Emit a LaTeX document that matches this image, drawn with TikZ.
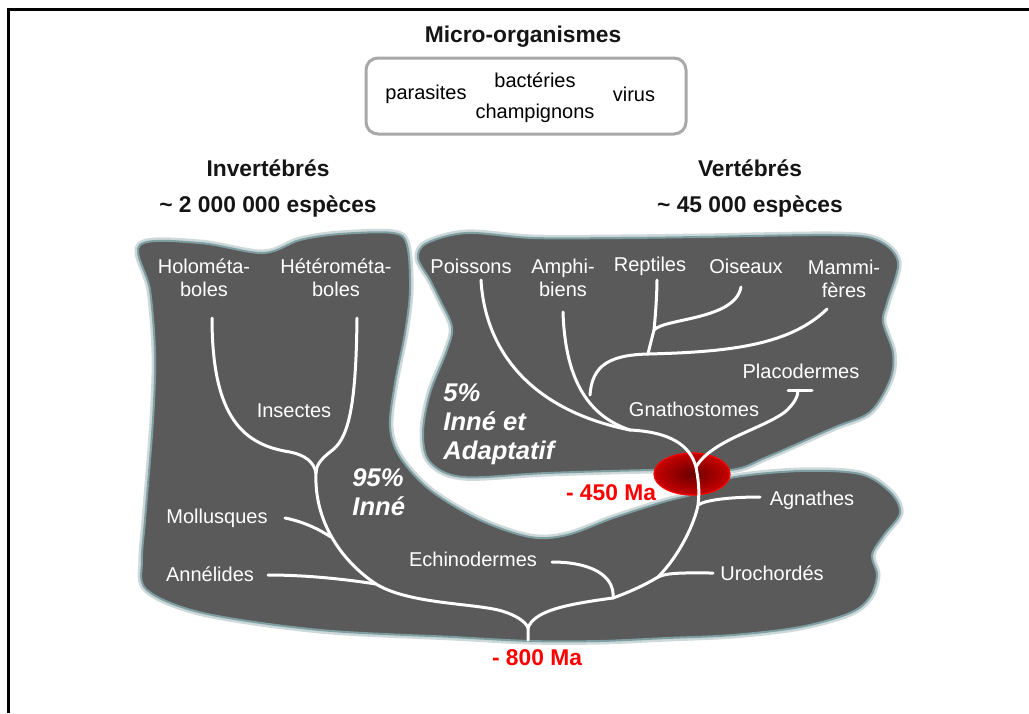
\documentclass[tikz,border=0pt]{standalone}
\usepackage{fontspec}
\setmainfont{Liberation Sans}
\usetikzlibrary{positioning, calc}
\definecolor{shapegray}{HTML}{5A5A5A}
\definecolor{shapeedge}{HTML}{7E9EA2}
\definecolor{edgeglow}{HTML}{CCD8D9}
\definecolor{boxgray}{HTML}{A8A8A8}
\definecolor{titleblack}{HTML}{151515}
\definecolor{markred}{HTML}{FF0000}
\definecolor{blobdark}{HTML}{6A0000}
\definecolor{blobred}{HTML}{C80000}

\begin{document}
\begin{tikzpicture}[x=0.5pt, y=-0.5pt,
    branch/.style={white, line width=1.5pt, line cap=round},
    lbl/.style={white, font=\fontsize{10}{11.5}\selectfont, align=center, inner sep=0pt},
    blk/.style={black, font=\fontsize{10}{11.5}\selectfont, inner sep=0pt},
    title/.style={text=titleblack, font=\fontsize{11.4}{13}\selectfont\bfseries, inner sep=0pt},
    share/.style={white, font=\fontsize{12.8}{14.5}\selectfont\bfseries\itshape, align=left, inner sep=0pt, anchor=west},
    age/.style={text=markred, font=\fontsize{11.4}{13}\selectfont\bfseries, inner sep=0pt},
    blob/.style={fill=shapegray, draw=shapeedge, line width=1pt},
    glow/.style={draw=edgeglow, line width=3.5pt}]
    \useasboundingbox (0,0) rectangle (1029,713);

    % cadre
    \draw[line width=1.5pt] (8,713) -- (8,9) -- (1029,9);

    % micro-organismes
    \node[title] (micro) at (523,37) {Micro-organismes};
    \node[draw=boxgray, line width=1.5pt, rounded corners=6pt,
          minimum width=160pt, minimum height=38pt] (microbox) at (526,96) {};
    \node[blk] (parasites) at (426,94) {parasites};
    \node[blk] (bact) at (535,80) {bactéries};
    \node[blk] (champ) at (535,113) {champignons};
    \node[blk] (virus) at (634,94) {virus};

    % titres
    \node[title] (invert) at (268,168) {Invertébrés};
    \node[title] (invertn) at (268,206) {\textasciitilde\ 2 000 000 espèces};
    \node[title] (vert) at (750,168) {Vertébrés};
    \node[title] (vertn) at (750,206) {\textasciitilde\ 45 000 espèces};

    % zones grises
    \def\lowzone{(140,245) (200,243) (263,253) (300,240) (340,234) (393,233) (407,245)
        (410,290) (405,333) (395,383) (390,427) (400,457) (430,490) (480,520) (530,537)
        (567,535) (613,518) (663,502) (697,493) (730,478) (800,471) (860,474) (890,492)
        (900,513) (884,535) (872,555) (877,575) (870,597) (850,613) (800,627) (733,635)
        (667,638) (600,641) (530,641) (453,637) (320,630) (203,613) (147,590) (142,560)
        (145,520) (153,420) (155,353) (150,290)}
    \def\highzone{(427,243) (467,233) (533,238) (620,238) (700,237) (833,235) (877,240)
        (898,262) (887,303) (883,322) (893,353) (890,380) (870,412) (833,428) (767,457)
        (730,470) (653,470) (547,473) (463,477) (430,462) (423,433) (430,393) (447,350)
        (452,327) (440,300) (430,280) (418,258)}
    \draw[glow] plot[smooth cycle, tension=0.55] coordinates {\lowzone};
    \draw[glow] plot[smooth cycle, tension=0.55] coordinates {\highzone};
    \draw[blob] plot[smooth cycle, tension=0.55] coordinates {\lowzone};
    \draw[blob] plot[smooth cycle, tension=0.55] coordinates {\highzone};

    % -450 Ma
    \shade[inner color=blobdark, outer color=blobred] (692,474) ellipse [x radius=19pt, y radius=10.5pt];
    \draw[markred, line width=0.6pt] (692,474) ellipse [x radius=19pt, y radius=10.5pt];

    % etiquettes
    \node[lbl] (holo) at (204,278) {Holométa-\\boles};
    \node[lbl] (hetero) at (336,278) {Hétérométa-\\boles};
    \node[lbl] (insect) at (294,411) {Insectes};
    \node[lbl] (moll) at (217,518) {Mollusques};
    \node[lbl] (annel) at (210,574) {Annélides};
    \node[lbl] (echin) at (473,559) {Echinodermes};
    \node[lbl] (uro) at (772,573) {Urochordés};
    \node[lbl] (agn) at (812,500) {Agnathes};
    \node[lbl] (gnat) at (694,409) {Gnathostomes};
    \node[lbl] (placo) at (801,371) {Placodermes};
    \node[lbl] (pois) at (471,266) {Poissons};
    \node[lbl] (amph) at (563,278) {Amphi-\\biens};
    \node[lbl] (rept) at (650,266) {Reptiles};
    \node[lbl] (ois) at (746,266) {Oiseaux};
    \node[lbl] (mamm) at (844,279) {Mammi-\\fères};

    \node[share] (inv-share) at (352,492) {95\%\\Inné};
    \node[share] (vert-share) at (443,424) {5\%\\Inné et\\Adaptatif};

    \node[age] (a450) at (611,493) {- 450 Ma};
    \node[age] (a800) at (537,658) {- 800 Ma};

    % points de l'arbre
    \coordinate (holo-e) at (212,318);
    \coordinate (hetero-e) at (357,318);
    \coordinate (insect-j) at (316,473);
    \coordinate (moll-e) at (285,518);
    \coordinate (moll-j) at (331,537);
    \coordinate (annel-e) at (268,575);
    \coordinate (annel-j) at (376,584);
    \coordinate (root) at (528,628);
    \coordinate (root-b) at (528,640);
    \coordinate (echin-e) at (552,562);
    \coordinate (echin-j) at (613,598);
    \coordinate (uro-e) at (713,573);
    \coordinate (uro-j) at (658,577);
    \coordinate (agn-e) at (760,497);
    \coordinate (agn-j) at (698,505);
    \coordinate (gnat-j) at (696,467);
    \coordinate (placo-e) at (798,390);
    \coordinate (placo-l) at (788,390);
    \coordinate (placo-r) at (812,390);
    \coordinate (fish-j) at (630,430);
    \coordinate (pois-e) at (481,280);
    \coordinate (amph-e) at (563,312);
    \coordinate (amnio-b) at (590,395);
    \coordinate (amnio-j) at (648,354);
    \coordinate (mamm-e) at (827,309);
    \coordinate (rep-j) at (654,330);
    \coordinate (rept-e) at (657,280);
    \coordinate (ois-e) at (741,287);

    % invertebres
    \draw[branch] (holo-e) .. controls (212,420) and (245,445) .. (290,452)
        .. controls (305,455) and (314,462) .. (insect-j);
    \draw[branch] (hetero-e) .. controls (356,410) and (348,440) .. (330,452)
        .. controls (320,460) and (316,466) .. (insect-j);
    \draw[branch] (insect-j) .. controls (314,520) and (340,560) .. (annel-j)
        .. controls (410,605) and (480,603) .. (505,612)
        .. controls (520,617) and (527,624) .. (root) -- (root-b);
    \draw[branch] (moll-e) .. controls (305,522) and (320,530) .. (moll-j);
    \draw[branch] (annel-e) .. controls (310,575) and (350,580) .. (annel-j);

    % vertebres
    \draw[branch] (root) .. controls (534,612) and (560,605) .. (echin-j);
    \draw[branch] (echin-e) .. controls (590,562) and (615,575) .. (echin-j);
    \draw[branch] (echin-j) .. controls (635,590) and (650,582) .. (uro-j)
        .. controls (680,555) and (695,522) .. (agn-j)
        .. controls (700,490) and (698,478) .. (gnat-j);
    \draw[branch] (uro-e) .. controls (690,573) and (668,572) .. (uro-j);
    \draw[branch] (agn-e) .. controls (730,497) and (705,500) .. (agn-j);
    \draw[branch] (gnat-j) .. controls (712,440) and (760,430) .. (785,412)
        .. controls (795,403) and (798,396) .. (placo-e);
    \draw[branch] (placo-l) -- (placo-r);
    \draw[branch] (gnat-j) .. controls (690,445) and (670,432) .. (fish-j);
    \draw[branch] (pois-e) .. controls (485,350) and (530,410) .. (fish-j);
    \draw[branch] (amph-e) .. controls (565,375) and (585,415) .. (fish-j);
    \draw[branch] (amnio-b) .. controls (592,365) and (610,355) .. (amnio-j);
    \draw[branch] (amnio-j) .. controls (730,352) and (790,345) .. (mamm-e);
    \draw[branch] (amnio-j) .. controls (650,345) and (652,338) .. (rep-j);
    \draw[branch] (rep-j) .. controls (656,310) and (657,290) .. (rept-e);
    \draw[branch] (rep-j) .. controls (665,318) and (735,320) .. (ois-e);

\end{tikzpicture}
\end{document}
